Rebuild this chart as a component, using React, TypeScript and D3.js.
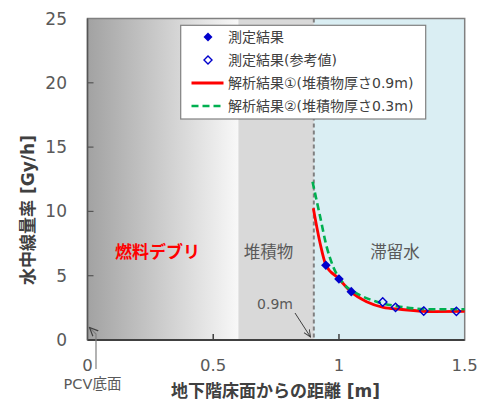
import React from "react";
import * as d3 from "d3";

const xTicks = [0, 0.5, 1, 1.5];
const xTickLabels = ["0", "0.5", "1", "1.5"];
const yTicks = [0, 5, 10, 15, 20, 25];
const yTickLabels = ["0", "5", "10", "15", "20", "25"];

const measuredX = [0.948, 1.0, 1.049];
const measuredY = [5.81, 4.74, 3.76];
const refX = [1.174, 1.225, 1.337, 1.467];
const refY = [2.95, 2.54, 2.25, 2.23];
const fit09X = [0.898, 0.925, 0.948, 0.998, 1.047, 1.11, 1.176, 1.243, 1.375, 1.5];
const fit09Y = [10.24, 7.52, 5.83, 4.8, 3.76, 2.98, 2.54, 2.39, 2.2, 2.22];
const fit03X = [0.895, 0.925, 0.951, 0.977, 1.017, 1.07, 1.15, 1.243, 1.375, 1.5];
const fit03Y = [12.3, 9.6, 7.26, 5.7, 4.4, 3.63, 2.98, 2.59, 2.39, 2.39];

const regionBounds = [0, 0.6, 0.9, 1.5];
const regionLabels = ["燃料デブリ", "堆積物", "滞留水"];
const legendLabels = [
  "測定結果",
  "測定結果(参考値)",
  "解析結果①(堆積物厚さ0.9m)",
  "解析結果②(堆積物厚さ0.3m)",
];
const xTitle = "地下階床面からの距離 [m]";
const yTitle = "水中線量率 [Gy/h]";

const FONT = "'DejaVu Sans', 'Noto Sans CJK JP', sans-serif";
const GRAY = "#595959";

export default function App() {
  const x = d3.scaleLinear().domain([0, 1.5]).range([87.5, 464.7]);
  const y = d3.scaleLinear().domain([0, 25]).range([340, 18.5]);
  const line = d3
    .line<[number, number]>()
    .x((d) => x(d[0]))
    .y((d) => y(d[1]))
    .curve(d3.curveMonotoneX);
  const fit09 = fit09X.map((v, i) => [v, fit09Y[i]] as [number, number]);
  const fit03 = fit03X.map((v, i) => [v, fit03Y[i]] as [number, number]);
  const diamond = (cx: number, cy: number, r: number) =>
    `M${cx},${cy - r}L${cx + r},${cy}L${cx},${cy + r}L${cx - r},${cy}Z`;

  const top = y(25);
  const bottom = y(0);
  const left = x(0);
  const right = x(1.5);
  const legendRowY = [37, 60, 83, 106];

  return (
    <svg
      width={481}
      height={400}
      style={{ position: "absolute", left: 0, top: 0, fontFamily: FONT }}
    >
      <defs>
        <linearGradient id="debris" x1="0" x2="1" y1="0" y2="0">
          <stop offset="0" stopColor="#a2a2a2" />
          <stop offset="1" stopColor="#f8f8f8" />
        </linearGradient>
        <marker
          id="arr"
          viewBox="0 0 10 10"
          refX="9"
          refY="5"
          markerWidth="8"
          markerHeight="8"
          orient="auto"
        >
          <path d="M0,1 L9,5 L0,9" fill="none" stroke="#404040" strokeWidth="1.2" />
        </marker>
      </defs>
      <rect width={481} height={400} fill="#fff" />
      {/* regions */}
      <rect
        x={x(regionBounds[0])}
        y={top}
        width={x(regionBounds[1]) - x(regionBounds[0])}
        height={bottom - top}
        fill="url(#debris)"
      />
      <rect
        x={x(regionBounds[1])}
        y={top}
        width={x(regionBounds[2]) - x(regionBounds[1])}
        height={bottom - top}
        fill="#d9d9d9"
      />
      <rect
        x={x(regionBounds[2])}
        y={top}
        width={x(regionBounds[3]) - x(regionBounds[2])}
        height={bottom - top}
        fill="#daeef3"
      />
      <line
        x1={x(0.9)}
        x2={x(0.9)}
        y1={top}
        y2={bottom}
        stroke="#808080"
        strokeWidth={2}
        strokeDasharray="4,3"
      />
      {/* frame */}
      <rect
        x={left}
        y={top}
        width={right - left}
        height={bottom - top}
        fill="none"
        stroke="#808080"
        strokeWidth={1.5}
      />
      <line x1={left} x2={right} y1={bottom} y2={bottom} stroke="#404040" strokeWidth={2} />
      <line x1={left} x2={left} y1={top} y2={bottom} stroke="#555" strokeWidth={1.5} />
      {/* ticks */}
      {yTicks.slice(1, -1).map((t) => (
        <line key={"yt" + t} x1={left} x2={left + 6} y1={y(t)} y2={y(t)} stroke="#555" strokeWidth={1.2} />
      ))}
      {xTicks.slice(1, -1).map((t) => (
        <line key={"xt" + t} x1={x(t)} x2={x(t)} y1={bottom} y2={bottom - 6} stroke="#404040" strokeWidth={1.5} />
      ))}
      {yTicks.map((t, i) => (
        <text key={"yl" + t} x={67} y={y(t) + 6} textAnchor="end" fontSize={17} fill={GRAY}>
          {yTickLabels[i]}
        </text>
      ))}
      {xTicks.map((t, i) => (
        <text key={"xl" + t} x={x(t)} y={371} textAnchor="middle" fontSize={16.5} fill={GRAY}>
          {xTickLabels[i]}
        </text>
      ))}
      {/* axis titles */}
      <text x={275.5} y={397} textAnchor="middle" fontSize={17} fontWeight="bold" fill="#404040">
        {xTitle}
      </text>
      <text
        transform="translate(34,210) rotate(-90)"
        textAnchor="middle"
        fontSize={17}
        fontWeight="bold"
        fill="#404040"
      >
        {yTitle}
      </text>
      {/* region labels */}
      <text x={157.5} y={258} textAnchor="middle" fontSize={17} fontWeight="bold" fill="#ff0000">
        {regionLabels[0]}
      </text>
      <text x={268.5} y={258} textAnchor="middle" fontSize={16.5} fill={GRAY}>
        {regionLabels[1]}
      </text>
      <text x={395} y={258} textAnchor="middle" fontSize={16.5} fill={GRAY}>
        {regionLabels[2]}
      </text>
      {/* 0.9m annotation */}
      <text x={275} y={309} textAnchor="middle" fontSize={14} fill={GRAY}>
        0.9m
      </text>
      <line x1={295} y1={313} x2={310.5} y2={337} stroke="#404040" strokeWidth={1} markerEnd="url(#arr)" />
      {/* PCV floor annotation */}
      <path d="M96,369 L96,334 L89.5,327.5" fill="none" stroke="#808080" strokeWidth={1.2} markerEnd="url(#arr)" />
      <text x={92.5} y={388.5} textAnchor="middle" fontSize={14.5} fill={GRAY}>
        PCV底面
      </text>
      {/* series */}
      <path d={line(fit09) || ""} fill="none" stroke="#ff0000" strokeWidth={2.8} />
      <path d={line(fit03) || ""} fill="none" stroke="#00b050" strokeWidth={2.6} strokeDasharray="7,4" />
      {measuredX.map((v, i) => (
        <path key={"m" + i} d={diamond(x(v), y(measuredY[i]), 4.8)} fill="#0000cc" />
      ))}
      {refX.map((v, i) => (
        <path
          key={"r" + i}
          d={diamond(x(v), y(refY[i]), 4.2)}
          fill="none"
          stroke="#0000cc"
          strokeWidth={1.4}
        />
      ))}
      {/* legend */}
      <rect x={180.7} y={25.3} width={245} height={93.7} fill="#fff" stroke="#808080" strokeWidth={1.2} />
      <path d={diamond(208, legendRowY[0], 4.5)} fill="#0000cc" />
      <path d={diamond(208, legendRowY[1], 4)} fill="none" stroke="#0000cc" strokeWidth={1.4} />
      <line x1={191.5} x2={223.5} y1={legendRowY[2]} y2={legendRowY[2]} stroke="#ff0000" strokeWidth={2.8} />
      <line
        x1={191.5}
        x2={223.5}
        y1={legendRowY[3]}
        y2={legendRowY[3]}
        stroke="#00b050"
        strokeWidth={2.6}
        strokeDasharray="7,4"
      />
      {legendLabels.map((l, i) => (
        <text key={"lg" + i} x={228} y={legendRowY[i] + 5} fontSize={14} fill="#404040">
          {l}
        </text>
      ))}
    </svg>
  );
}
